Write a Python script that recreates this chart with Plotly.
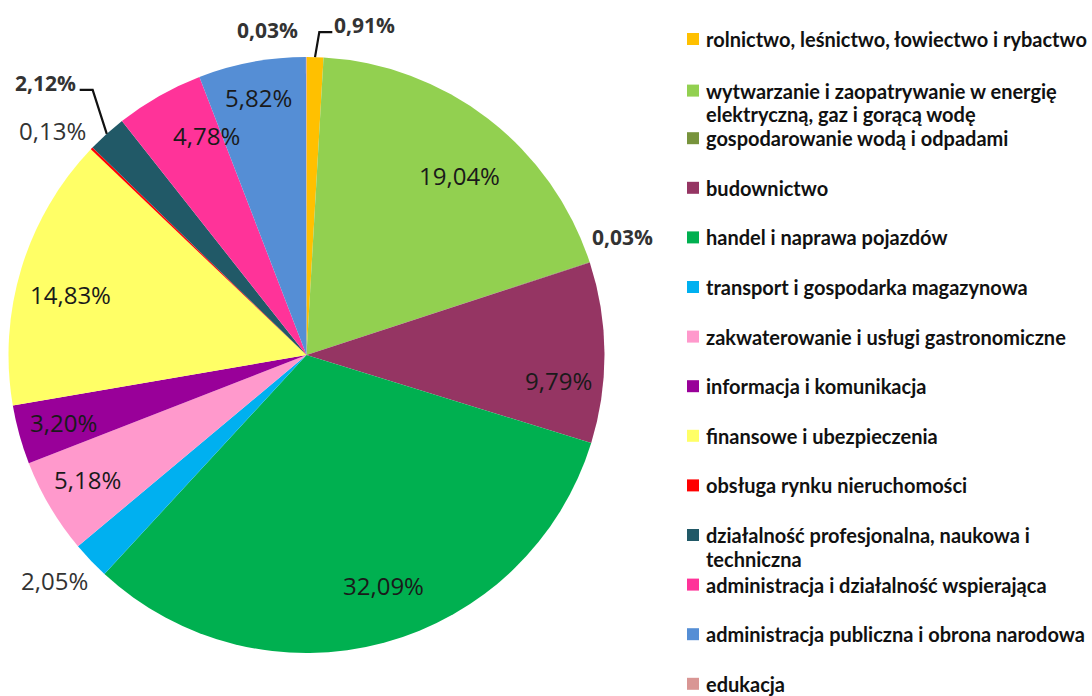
import math
import plotly.graph_objects as go

W, H = 1092, 696

categories = [
    "rolnictwo, leśnictwo, łowiectwo i rybactwo",
    "wytwarzanie i zaopatrywanie w energię<br>elektryczną, gaz i gorącą wodę",
    "gospodarowanie wodą i odpadami",
    "budownictwo",
    "handel i naprawa pojazdów",
    "transport i gospodarka magazynowa",
    "zakwaterowanie i usługi gastronomiczne",
    "informacja i komunikacja",
    "finansowe i ubezpieczenia",
    "obsługa rynku nieruchomości",
    "działalność profesjonalna, naukowa i<br>techniczna",
    "administracja i działalność wspierająca",
    "administracja publiczna i obrona narodowa",
    "edukacja",
]
values = [0.91, 19.04, 0.03, 9.79, 32.09, 2.05, 5.18, 3.20, 14.83, 0.13, 2.12, 4.78, 5.82, 0.03]
value_labels = ["0,91%", "19,04%", "0,03%", "9,79%", "32,09%", "2,05%", "5,18%",
                "3,20%", "14,83%", "0,13%", "2,12%", "4,78%", "5,82%", "0,03%"]
colors = ["#FFC000", "#92D050", "#77933C", "#953563", "#00B050", "#00B0F0", "#FF99CC",
          "#990099", "#FFFF66", "#FF0000", "#215967", "#FF3399", "#558ED5", "#D99694"]

# label placement (radius factor, angle offset in degrees, style)
label_r = [1.124, 0.79, 1.131, 0.85, 0.815, 1.134, 0.846, 0.846, 0.817, 1.139, 1.265, 0.81, 0.88, 1.098]
label_da = [8.3, 2.9, -2.4, 6.3, -3.4, 1.8, 0.9, 0.1, -2.6, -2.4, -1.7, 5.3, 0.1, -6.8]
label_bold = [True, False, True, False, False, False, False, False, False, False, True, False, False, True]
leader = [1, 0, 0, 0, 0, 0, 0, 0, 0, 0, -1, 0, 0, 0]

# pie geometry (pixels)
cx, cy, R = 306.5, 355, 298

fig = go.Figure(go.Pie(
    labels=[c.replace("<br>", " ") for c in categories],
    values=values,
    marker=dict(colors=colors, line=dict(width=0)),
    sort=False,
    direction="clockwise",
    rotation=0,
    textinfo="none",
    hoverinfo="label+percent",
    domain=dict(x=[(cx - R) / W, (cx + R) / W], y=[1 - (cy + R) / H, 1 - (cy - R) / H]),
    showlegend=False,
))

def P(x, y):
    return x / W, 1 - y / H

annotations = []
shapes = []
total = sum(values)
cum = 0.0
for i, v in enumerate(values):
    mid = (cum + v / 2) / total * 360.0
    cum += v
    ang = math.radians(mid + label_da[i])
    lx = cx + label_r[i] * R * math.sin(ang)
    ly = cy - label_r[i] * R * math.cos(ang)
    outside = label_r[i] > 1
    txt = value_labels[i]
    if label_bold[i]:
        txt = "<b>" + txt + "</b>"
    ax, ay = P(lx, ly)
    annotations.append(dict(
        x=ax, y=ay, xref="paper", yref="paper", text=txt, showarrow=False,
        xanchor="center", yanchor="middle",
        font=dict(family="Open Sans, Liberation Sans, sans-serif",
                  size=21 if label_bold[i] else 24,
                  color="#333333" if outside else "#1a1a1a"),
    ))
    if leader[i] != 0:
        m = math.radians(mid)
        ex, ey = cx + R * math.sin(m), cy - R * math.cos(m)
        half = 32 if leader[i] > 0 else 34
        endx = lx - leader[i] * half
        elbx = endx - leader[i] * 13
        elby = ly + 7
        x0, y0 = P(ex, ey)
        x1, y1 = P(elbx, elby)
        x2, y2 = P(endx, elby)
        shapes.append(dict(type="path", xref="paper", yref="paper",
                           path=f"M {x0} {y0} L {x1} {y1} L {x2} {y2}",
                           line=dict(color="#111111", width=2.2)))

# custom legend
leg_x_sq, leg_x_txt, leg_y0, leg_dy, sq, line_gap = 687, 704, 39, 49.6, 12, 23.5
for i, c in enumerate(categories):
    yy = leg_y0 + leg_dy * i
    if i == 1:
        yy += 2
    x0, y0 = P(leg_x_sq, yy - sq / 2)
    x1, y1 = P(leg_x_sq + sq, yy + sq / 2)
    shapes.append(dict(type="rect", xref="paper", yref="paper", x0=x0, x1=x1, y0=y1, y1=y0,
                       fillcolor=colors[i], line=dict(width=0)))
    for k, line in enumerate(c.split("<br>")):
        tx, ty = P(leg_x_txt, yy + k * line_gap)
        annotations.append(dict(
            x=tx, y=ty, xref="paper", yref="paper", text="<b>" + line + "</b>", showarrow=False,
            xanchor="left", yanchor="middle", align="left",
            font=dict(family="Lato, Open Sans, sans-serif", size=20, color="#111111"),
        ))

fig.update_layout(
    width=W, height=H,
    margin=dict(l=0, r=0, t=0, b=0),
    paper_bgcolor="white",
    plot_bgcolor="white",
    annotations=annotations,
    shapes=shapes,
    showlegend=False,
)

fig.write_html("out.html", config={"displayModeBar": False},
               post_script="document.body.style.margin='0';document.body.style.padding='0';")
